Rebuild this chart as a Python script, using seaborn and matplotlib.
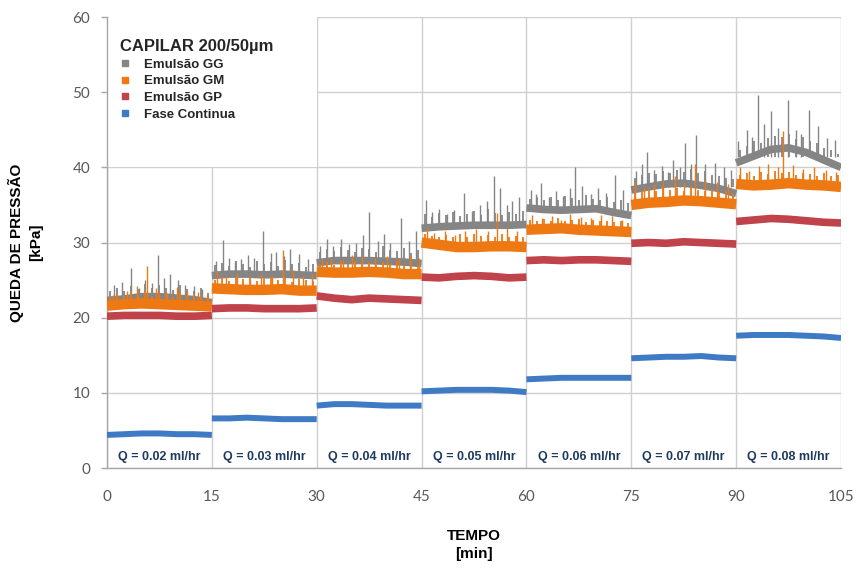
import numpy as np
import pandas as pd
import matplotlib
matplotlib.use("Agg")
import matplotlib.pyplot as plt
from matplotlib.lines import Line2D
from matplotlib.patches import Rectangle
import seaborn as sns

# ---------------- data ----------------
seg_starts = [0, 15, 30, 45, 60, 75, 90]
flow_labels = ["Q = 0.02 ml/hr", "Q = 0.03 ml/hr", "Q = 0.04 ml/hr", "Q = 0.05 ml/hr",
               "Q = 0.06 ml/hr", "Q = 0.07 ml/hr", "Q = 0.08 ml/hr"]
x_ticks = [0, 15, 30, 45, 60, 75, 90, 105]
y_ticks = [0, 10, 20, 30, 40, 50, 60]

# levels read every 2.5 min inside each 15-min segment
gg_levels = [
    [22.3, 22.5, 22.8, 22.8, 22.6, 22.4, 22.0],
    [25.6, 25.8, 25.8, 25.7, 25.8, 25.7, 25.6],
    [27.3, 27.6, 27.6, 27.6, 27.5, 27.4, 27.2],
    [31.9, 32.1, 32.2, 32.3, 32.3, 32.3, 32.4],
    [34.6, 34.4, 34.3, 34.4, 34.5, 34.0, 33.6],
    [37.0, 37.4, 37.8, 37.9, 37.6, 37.2, 36.5],
    [40.6, 41.5, 42.4, 42.6, 42.0, 41.0, 40.0],
]
gm_levels = [
    [21.6, 21.8, 21.9, 21.8, 21.7, 21.6, 21.5],
    [23.9, 23.8, 23.7, 23.7, 23.8, 23.6, 23.6],
    [26.1, 26.0, 26.0, 26.1, 26.0, 25.8, 25.8],
    [30.0, 29.7, 29.4, 29.4, 29.5, 29.5, 29.4],
    [31.7, 31.8, 31.9, 31.7, 31.6, 31.5, 31.4],
    [35.0, 35.3, 35.4, 35.6, 35.5, 35.3, 35.1],
    [37.8, 37.6, 37.7, 37.9, 37.7, 37.6, 37.4],
]
gp_levels = [
    [20.2, 20.3, 20.3, 20.3, 20.2, 20.2, 20.3],
    [21.2, 21.3, 21.3, 21.2, 21.2, 21.2, 21.3],
    [22.9, 22.6, 22.4, 22.6, 22.5, 22.4, 22.3],
    [25.4, 25.3, 25.5, 25.6, 25.5, 25.3, 25.4],
    [27.6, 27.7, 27.6, 27.7, 27.7, 27.6, 27.5],
    [29.9, 30.0, 29.9, 30.1, 30.0, 29.9, 29.8],
    [32.8, 33.0, 33.2, 33.1, 32.9, 32.7, 32.6],
]
fc_levels = [
    [4.4, 4.5, 4.6, 4.6, 4.5, 4.5, 4.4],
    [6.6, 6.6, 6.7, 6.6, 6.5, 6.5, 6.5],
    [8.3, 8.5, 8.5, 8.4, 8.3, 8.3, 8.3],
    [10.2, 10.3, 10.4, 10.4, 10.4, 10.3, 10.1],
    [11.8, 11.9, 12.0, 12.0, 12.0, 12.0, 12.0],
    [14.6, 14.7, 14.8, 14.8, 14.9, 14.7, 14.6],
    [17.6, 17.7, 17.7, 17.7, 17.6, 17.5, 17.3],
]

# large spikes (time, peak value) per segment
gg_spike_t = [
    [1.0, 2.2, 3.4, 4.6, 5.5, 6.5, 7.3, 8.2, 9.0, 10.1, 11.2, 12.5, 13.6],
    [15.6, 16.6, 17.5, 18.3, 19.2, 20.2, 21.0, 22.3, 23.4, 24.2, 25.3, 26.2, 27.5, 28.7],
    [30.5, 31.4, 32.3, 33.5, 34.6, 35.6, 36.6, 37.5, 38.7, 39.6, 40.5, 42.0, 43.2, 44.2],
    [45.6, 46.5, 47.5, 48.6, 49.7, 51.0, 52.2, 53.3, 54.3, 55.4, 56.2, 57.2, 58.0, 59.0],
    [60.6, 61.3, 62.1, 63.2, 64.2, 65.3, 66.3, 67.0, 68.0, 69.2, 70.3, 71.4, 72.7, 73.8],
    [75.7, 76.5, 77.2, 78.3, 79.4, 80.2, 81.0, 82.0, 82.7, 83.5, 84.3, 85.5, 87.0, 88.2, 89.3],
    [90.3, 91.5, 92.3, 93.1, 94.0, 95.0, 96.0, 97.4, 98.5, 99.3, 100.4, 101.7, 103.0, 104.2],
]
gg_spike_v = [
    [24.3, 24.8, 26.6, 24.0, 25.0, 24.6, 28.3, 25.3, 25.8, 25.0, 24.4, 24.2, 23.8],
    [27.5, 30.4, 28.0, 27.6, 27.8, 28.4, 28.0, 31.6, 28.6, 28.8, 28.2, 29.1, 28.5, 27.8],
    [29.5, 30.5, 29.6, 30.5, 29.8, 30.0, 31.0, 34.1, 30.2, 31.1, 30.0, 33.2, 30.2, 31.5],
    [35.6, 34.0, 34.5, 33.8, 34.3, 36.6, 34.2, 35.0, 35.5, 38.8, 37.2, 35.0, 35.5, 36.1],
    [37.0, 36.5, 37.9, 36.0, 36.8, 36.2, 37.3, 40.1, 37.5, 36.5, 37.2, 36.6, 39.0, 37.0],
    [39.5, 40.5, 42.1, 39.6, 40.2, 39.4, 41.0, 40.0, 43.3, 40.5, 44.3, 40.4, 40.6, 40.0, 39.6],
    [43.5, 45.0, 44.0, 49.6, 45.8, 47.5, 45.2, 48.9, 45.0, 44.4, 47.7, 45.5, 43.9, 43.6],
]
gm_spike_t = [
    [0.8, 2.8, 4.3, 5.7, 7.0, 8.6, 10.0, 11.5, 13.0, 14.3],
    [15.8, 17.0, 18.6, 20.4, 22.0, 23.6, 25.2, 26.6, 28.0, 29.3],
    [30.8, 32.0, 33.8, 35.0, 36.5, 38.3, 40.0, 41.8, 43.4, 44.6],
    [45.8, 46.8, 48.3, 49.8, 51.2, 52.8, 54.5, 55.8, 57.2, 58.6],
    [60.8, 62.2, 63.6, 65.0, 66.2, 67.8, 69.3, 70.7, 72.2, 73.6],
    [75.5, 76.8, 78.2, 79.6, 81.2, 82.5, 84.1, 85.6, 87.2, 88.8],
    [90.5, 91.8, 93.2, 94.6, 96.0, 96.7, 98.2, 99.6, 101.2, 102.8, 104.3],
]
gm_spike_v = [
    [23.0, 23.5, 24.2, 26.9, 24.0, 23.3, 24.1, 23.6, 23.4, 23.0],
    [26.2, 25.5, 26.0, 25.2, 25.8, 25.6, 29.0, 26.4, 25.5, 25.8],
    [27.8, 28.0, 27.7, 28.3, 28.4, 27.9, 28.2, 28.0, 28.4, 27.9],
    [32.0, 31.3, 31.5, 31.0, 31.6, 31.8, 31.6, 33.9, 32.0, 31.5],
    [33.6, 33.2, 33.5, 33.0, 33.8, 33.4, 33.2, 33.6, 33.5, 33.0],
    [38.0, 37.4, 37.8, 38.2, 38.9, 38.0, 40.5, 38.5, 38.0, 37.8],
    [40.0, 39.5, 40.2, 40.4, 40.0, 44.8, 40.3, 39.8, 40.0, 39.6, 39.4],
]
# small noise peaks read at each half minute mark (0.5, 1.5, ... 14.5 of each segment)
gg_fuzz = [
    [23.6, 24.0, 23.5, 24.2, 23.8, 24.5, 23.9, 24.3, 24.0, 23.7, 24.4, 23.8, 23.5, 23.9, 23.3],
    [27.0, 27.3, 26.9, 27.5, 27.1, 26.8, 27.6, 27.2, 27.4, 26.9, 27.7, 27.1, 27.3, 26.8, 27.2],
    [28.8, 29.2, 28.9, 29.4, 29.0, 28.7, 29.3, 29.1, 28.8, 29.5, 29.0, 28.9, 29.3, 28.6, 29.0],
    [33.8, 33.4, 33.9, 33.6, 34.1, 33.5, 33.8, 34.2, 33.7, 34.4, 33.9, 33.6, 34.0, 33.8, 34.2],
    [35.8, 36.1, 35.7, 36.0, 35.6, 36.2, 35.9, 35.7, 36.3, 35.8, 35.6, 36.0, 35.4, 35.7, 35.2],
    [38.6, 39.0, 39.3, 39.1, 39.5, 39.2, 39.6, 39.4, 39.8, 39.3, 39.5, 39.0, 38.9, 38.6, 38.4],
    [42.3, 42.8, 43.5, 43.2, 43.9, 44.2, 44.0, 44.4, 43.8, 44.0, 43.5, 43.2, 42.6, 42.3, 41.8],
]
gm_fuzz = [
    [22.8, 23.2, 22.9, 23.4, 23.0, 23.5, 22.9, 23.3, 23.1, 22.8, 23.4, 22.9, 23.0, 22.7, 22.9],
    [25.0, 25.4, 24.9, 25.3, 25.1, 25.5, 24.9, 25.2, 25.4, 25.0, 25.3, 24.8, 25.2, 25.0, 24.9],
    [27.1, 27.4, 27.0, 27.5, 27.2, 27.6, 27.1, 27.3, 27.0, 27.4, 27.2, 27.5, 27.0, 27.3, 26.9],
    [31.2, 30.9, 30.8, 31.0, 30.7, 31.1, 30.8, 31.2, 30.9, 31.0, 30.7, 31.1, 30.8, 30.9, 30.7],
    [33.0, 32.8, 33.1, 32.9, 33.2, 32.8, 33.0, 33.1, 32.7, 33.0, 32.9, 32.8, 32.7, 32.9, 32.6],
    [36.6, 36.9, 37.1, 36.8, 37.3, 37.0, 37.2, 36.9, 37.4, 37.0, 36.8, 37.1, 36.7, 36.9, 36.5],
    [39.0, 39.3, 38.9, 39.4, 39.1, 39.5, 39.2, 39.4, 39.0, 39.3, 39.1, 38.9, 39.2, 38.8, 39.0],
]

series_names = ["Emulsão GG", "Emulsão GM", "Emulsão GP", "Fase Continua"]
colors = {"Emulsão GG": "#858585", "Emulsão GM": "#EE7812",
          "Emulsão GP": "#C0424A", "Fase Continua": "#3F7BC4"}
widths = {"Emulsão GG": 5.5, "Emulsão GM": 7.5, "Emulsão GP": 5.5, "Fase Continua": 4.3}

# ---------------- build table ----------------
offsets = np.linspace(0, 15, 7)
fuzz_offsets = np.arange(0.5, 15, 1.0)
rows = []
for name, lv in zip(series_names, [gg_levels, gm_levels, gp_levels, fc_levels]):
    for s, (st, vals) in enumerate(zip(seg_starts, lv)):
        for o, v in zip(offsets, vals):
            rows.append({"serie": name, "seg": s, "t": st + o, "v": v})
df = pd.DataFrame(rows)

# ---------------- figure ----------------
sns.set_theme(style="white")
plt.rcParams["font.family"] = ["Liberation Sans", "DejaVu Sans"]

fig = plt.figure(figsize=(8.56, 5.69), dpi=100)
ax = fig.add_axes([0.125, 0.1775, 0.8575, 0.7925])

grid_c = "#CFCFCF"
ax.set_xlim(0, 105)
ax.set_ylim(0, 60)
ax.set_xticks(x_ticks)
ax.set_yticks(y_ticks)
ax.grid(True, color=grid_c, lw=1.0, zorder=0)
ax.set_axisbelow(True)
for sp in ["top", "right"]:
    ax.spines[sp].set_visible(False)
for sp in ["left", "bottom"]:
    ax.spines[sp].set_color("#A6A6A6")
    ax.spines[sp].set_linewidth(1.0)

def spikes(ts, vs, levels, color, z, lw=1.0):
    for st_ts, st_vs, lv in zip(ts, vs, levels):
        base = np.mean(lv)
        ax.vlines(st_ts, base, st_vs, color=color, lw=lw, zorder=z)

def fuzz(vals, levels, color, z):
    for st, fv, lv in zip(seg_starts, vals, levels):
        base = np.mean(lv)
        ax.vlines(st + fuzz_offsets, base, fv, color=color, lw=1.3, zorder=z)

# GG first (behind)
spikes(gg_spike_t, gg_spike_v, gg_levels, colors["Emulsão GG"], 2)
fuzz(gg_fuzz, gg_levels, colors["Emulsão GG"], 2)
for i, name in enumerate(series_names):
    sub = df[df.serie == name]
    if name == "Emulsão GM":
        spikes(gm_spike_t, gm_spike_v, gm_levels, colors[name], 3.5)
        fuzz(gm_fuzz, gm_levels, colors[name], 3.5)
    sns.lineplot(data=sub, x="t", y="v", units="seg", estimator=None,
                 color=colors[name], lw=widths[name], legend=False, ax=ax,
                 solid_capstyle="butt", zorder=3 + i)

# flow labels
for st, lab in zip(seg_starts, flow_labels):
    ax.text(st + 7.5, 1.5, lab, ha="center", va="center", fontsize=9,
            fontweight="bold", color="#1F3A60", zorder=8)

# ticks
ax.tick_params(axis="y", which="both", left=True, length=4, width=1, color="#A6A6A6",
               labelsize=11, labelcolor="#595959", pad=8)
ax.tick_params(axis="x", which="both", bottom=False, labelsize=11,
               labelcolor="#595959", pad=10)
for lab in ax.get_xticklabels() + ax.get_yticklabels():
    lab.set_family(["Lato", "DejaVu Sans"])

ax.set_xlabel("TEMPO\n[min]", fontsize=11, fontweight="bold", color="black",
              labelpad=18, linespacing=1.35)
ax.set_ylabel("QUEDA DE PRESSÃO\n[kPa]", fontsize=11, fontweight="bold", color="black",
              labelpad=21, linespacing=1.5)

# white panel behind the legend (hides the grid there, as in the original)
ax.add_patch(Rectangle((0.0, 0.668), 0.2857, 0.332, transform=ax.transAxes,
                       facecolor="white", edgecolor="none", zorder=1.5))

# legend
handles = [Line2D([], [], marker="s", linestyle="", markersize=4.5,
                  color=colors[n]) for n in series_names]
leg = ax.legend(handles, series_names, title="CAPILAR 200/50µm", loc="upper left",
                bbox_to_anchor=(0.018, 0.951), borderaxespad=0.0, borderpad=0.0,
                frameon=False, alignment="left",
                handlelength=0.8, handletextpad=1.0,
                labelspacing=0.33, prop={"weight": "bold", "size": 9.5})
leg.get_title().set_fontweight("bold")
leg.get_title().set_fontsize(12)
leg.set_zorder(10)

fig.savefig("out.png", dpi=100)
